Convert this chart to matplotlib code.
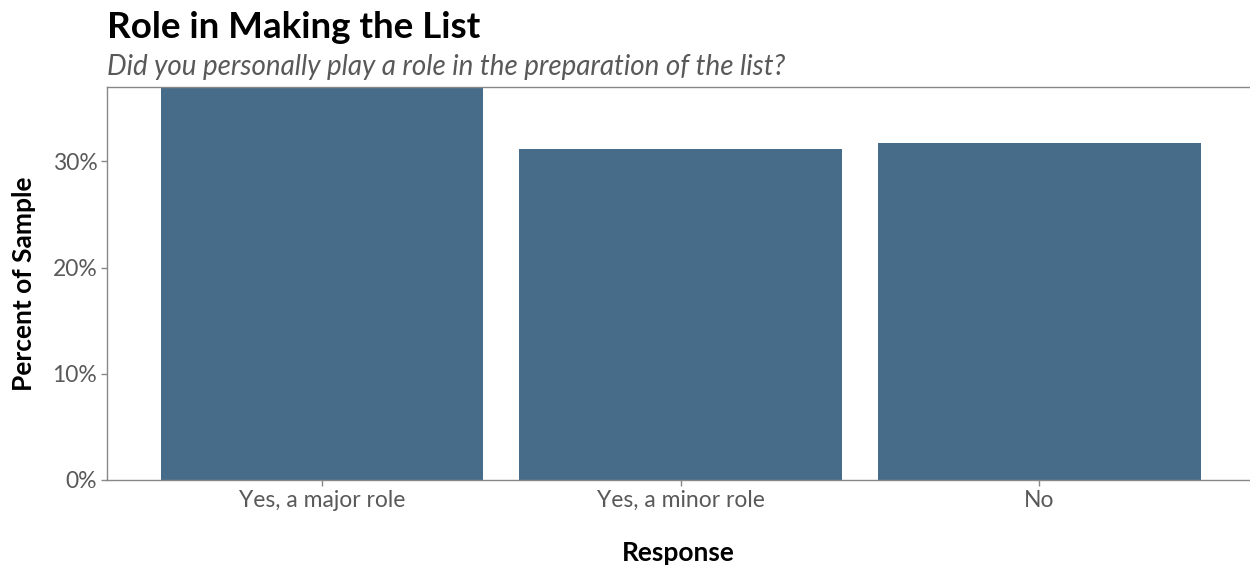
import matplotlib.pyplot as plt
from matplotlib.ticker import FuncFormatter

responses = ['Yes, a major role', 'Yes, a minor role', 'No']
percents = [37.1, 31.2, 31.7]

bar_color = '#476c89'
gray = '#595959'

plt.rcParams['font.family'] = ['Lato', 'DejaVu Sans']

fig = plt.figure(figsize=(12.5, 5.66), dpi=100)
ax = fig.add_axes([107 / 1250, 1 - 480 / 566, 1 - 107 / 1250, (480 - 87) / 566])

x = list(range(1, len(responses) + 1))
ax.bar(x, percents, width=0.9, color=bar_color)

ax.set_xlim(0.4, 3.588)
ax.set_ylim(0, 37.0)
ax.set_xticks(x)
ax.set_xticklabels(responses)
ax.set_yticks([0, 10, 20, 30])
ax.yaxis.set_major_formatter(FuncFormatter(lambda v, p: f'{v:.0f}%'))

for side in ['left', 'bottom', 'top']:
    ax.spines[side].set_color('#888888')
    ax.spines[side].set_linewidth(1.0)
ax.spines['right'].set_visible(False)
ax.tick_params(axis='both', colors='#888888', length=4, width=1,
               labelsize=16.5, labelcolor=gray, pad=3)

ax.set_xlabel('Response', fontsize=19, fontweight='bold', color='black', labelpad=22)
ax.set_ylabel('Percent of Sample', fontsize=19, fontweight='bold', color='black', labelpad=12)

fig.text(107 / 1250, 1 - 27 / 566, 'Role in Making the List', fontsize=26.5,
         fontweight='bold', color='black', va='center', ha='left')
fig.text(107 / 1250, 1 - 67 / 566, 'Did you personally play a role in the preparation of the list?',
         fontsize=20, style='italic', color=gray, va='center', ha='left')

fig.savefig('out.png', dpi=100)
